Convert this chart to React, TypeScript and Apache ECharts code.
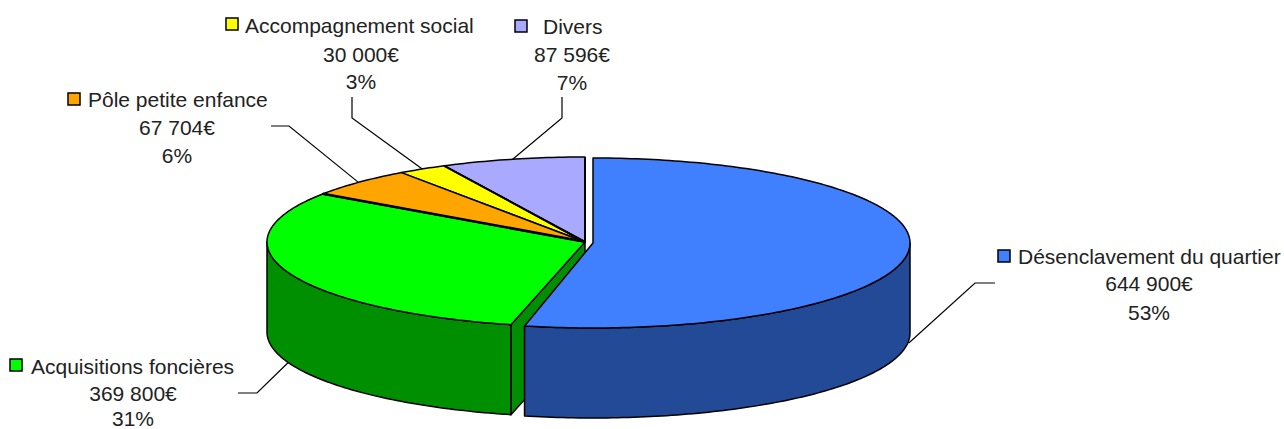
import React, { useEffect, useRef } from "react";
import * as echarts from "echarts";

// Draw order: back slices first, the front blue slice last.
const names = ["Divers", "Accompagnement social", "Pôle petite enfance", "Acquisitions foncières", "Désenclavement du quartier"];
const amounts = [87596, 30000, 67704, 369800, 644900];
const amountLabels = ["87 596€", "30 000€", "67 704€", "369 800€", "644 900€"];
const percentLabels = ["7%", "3%", "6%", "31%", "53%"];

const topColors = ["#A9A9FF", "#FFFF00", "#FFA500", "#00FF00", "#4080FF"];
const sideColors = ["#5A5A90", "#8F8F00", "#8F5C00", "#008F00", "#224A96"];

const CX = 585, CY = 242, RX = 318, RY = 85, DEPTH = 90;
const total = amounts.reduce((a, b) => a + b, 0);

// Slices run counter-clockwise from twelve o'clock in draw order.
function range(i: number): [number, number] {
  let end = 360;
  for (let k = 0; k < i; k++) end -= (amounts[k] / total) * 360;
  return [end - (amounts[i] / total) * 360, end];
}
function drawnRange(i: number): [number, number] {
  const [a, b] = range(i);
  return i === 4 ? [a, b - 1] : [a, b];
}
function centre(i: number): [number, number] {
  return i === 4 ? [CX + 8, CY + 1] : [CX, CY];
}
function pt(c: [number, number], deg: number, dy = 0, rx = RX): [number, number] {
  const t = (deg * Math.PI) / 180;
  return [c[0] + rx * Math.sin(t), c[1] - RY * Math.cos(t) + dy];
}
function arc(c: [number, number], a: number, b: number, dy = 0, rx = RX) {
  const out: [number, number][] = [];
  const n = Math.max(2, Math.ceil(Math.abs(b - a)));
  for (let k = 0; k <= n; k++) out.push(pt(c, a + ((b - a) * k) / n, dy, rx));
  return out;
}

const renderSlice = (params: any) => {
  const i = params.dataIndex;
  const [a, b] = drawnRange(i);
  const c = centre(i);
  const rx = i === 4 ? RX - 1 : RX;
  const children: any[] = [];
  const lo = Math.max(a, 90), hi = Math.min(b, 270);
  const stroke = { stroke: "#000", lineWidth: 1.5, lineJoin: "round" };
  if (a > 90 && a < 270) {
    const p = pt(c, a, 0, rx);
    children.push({
      type: "polygon",
      shape: { points: [[c[0], c[1]], p, [p[0], p[1] + DEPTH], [c[0], c[1] + DEPTH]] },
      style: { fill: sideColors[i], ...stroke },
    });
  }
  if (hi > lo) {
    children.push({
      type: "polygon",
      shape: { points: [...arc(c, lo, hi, 0, rx), ...arc(c, hi, lo, DEPTH, rx)] },
      style: { fill: sideColors[i], ...stroke },
    });
  }
  children.push({
    type: "polygon",
    shape: { points: [c, ...arc(c, a, b, 0, rx)] },
    style: { fill: topColors[i], ...stroke },
  });
  if (i < 4) {
    const p = pt(c, i === 2 ? a : b);
    children.push({
      type: "line",
      shape: { x1: c[0], y1: c[1], x2: p[0], y2: p[1] },
      style: { stroke: "#000", lineWidth: i === 2 ? 3.2 : 2 },
    });
  }
  return { type: "group", children };
};

// Label layout: key square, first line start, centre of the two lower lines, elbow points of leader.
const layout = [
  { key: [515, 20], x: 543, cx: 572, y: [26, 54, 82], leader: [[562, 97], [562, 118]] },
  { key: [226, 18], x: 245, cx: 361, y: [25, 54, 81], leader: [[352, 97], [352, 118]] },
  { key: [68, 93], x: 88, cx: 177, y: [99, 127, 155], leader: [[271, 126], [289, 126]] },
  { key: [10, 359], x: 31, cx: 133, y: [366, 393, 418], leader: [[238, 393], [257, 393]] },
  { key: [998, 250], x: 1018, cx: 1149, y: [256, 283, 312], leader: [[995, 283], [975, 283]] },
];

function labelGraphics() {
  const out: any[] = [];
  const font = '21px "Liberation Sans", Arial, sans-serif';
  names.forEach((name, i) => {
    const l = layout[i];
    const [a, b] = range(i);
    const mid = (a + b) / 2;
    const side = mid > 90 && mid < 270;
    const anchor = pt(centre(i), mid, side ? DEPTH : 0);
    out.push({
      type: "polyline",
      z: 10,
      shape: { points: [...l.leader, anchor] },
      style: { stroke: "#000", lineWidth: 1.2, fill: "none" },
    });
    out.push({
      type: "rect",
      z: 10,
      shape: { x: l.key[0], y: l.key[1], width: 12, height: 12 },
      style: { fill: topColors[i], stroke: "#000", lineWidth: 1.5 },
    });
    out.push({
      type: "text",
      z: 10,
      style: { text: name, x: l.x, y: l.y[0], font, fill: "#222", align: "left", verticalAlign: "middle" },
    });
    out.push({
      type: "text",
      z: 10,
      style: { text: amountLabels[i], x: l.cx, y: l.y[1], font, fill: "#222", align: "center", verticalAlign: "middle" },
    });
    out.push({
      type: "text",
      z: 10,
      style: { text: percentLabels[i], x: l.cx, y: l.y[2], font, fill: "#222", align: "center", verticalAlign: "middle" },
    });
  });
  return out;
}

export default function App() {
  const ref = useRef<HTMLDivElement>(null);
  useEffect(() => {
    const chart = echarts.init(ref.current!, null, { renderer: "svg" });
    chart.setOption({
      animation: false,
      backgroundColor: "#fff",
      series: [
        {
          type: "custom",
          coordinateSystem: "none",
          silent: true,
          data: amounts.map((v, i) => ({ name: names[i], value: [v] })),
          renderItem: renderSlice,
        },
      ],
      graphic: labelGraphics(),
    });
    return () => chart.dispose();
  }, []);
  return <div ref={ref} style={{ position: "absolute", left: 0, top: 0, width: 1284, height: 429 }} />;
}
